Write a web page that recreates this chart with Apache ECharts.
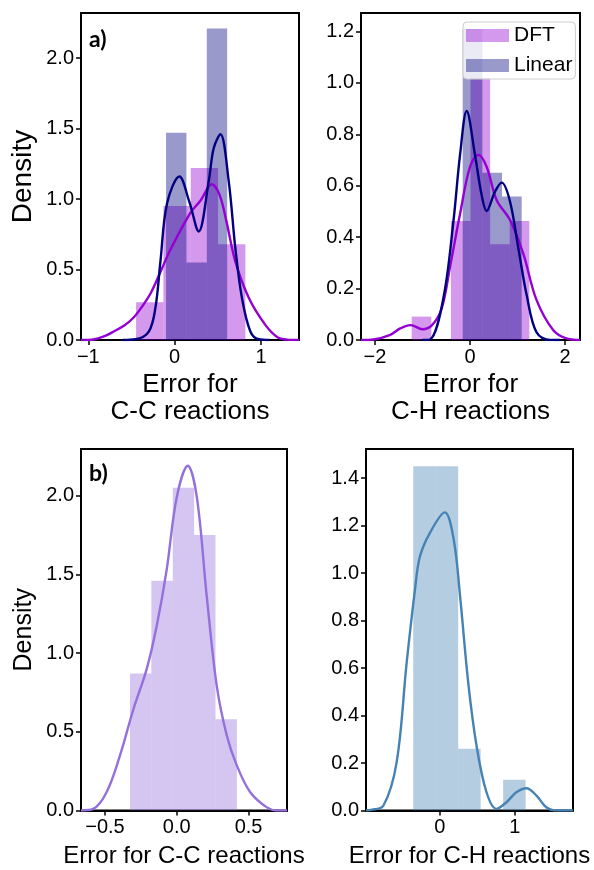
<!DOCTYPE html>
<html>
<head>
<meta charset="utf-8">
<script src="https://cdn.jsdelivr.net/npm/echarts@6/dist/echarts.min.js"></script>
<style>
html,body{margin:0;padding:0;background:#fff;}
#chart{width:594px;height:870px;}
</style>
</head>
<body>
<div id="chart"></div>
<script>
// ---------- data ----------
// Panel a) C-C reactions
const ccDftEdges = [-0.447, -0.1305, 0.186, 0.5025, 0.819];
const ccDftDensity = [0.268, 0.95, 1.22, 0.68];
const ccLinEdges = [-0.1, 0.136, 0.372, 0.608];
const ccLinDensity = [1.47, 0.55, 2.21];
const ccDftKde = [[-1.085,0],[-0.94,0.004],[-0.82,0.025],[-0.707,0.06],[-0.58,0.105],[-0.475,0.16],[-0.38,0.235],[-0.28,0.33],[-0.16,0.49],[-0.05,0.64],[0.18,0.9],[0.3,0.99],[0.43,1.105],[0.52,1.03],[0.6,0.84],[0.703,0.556],[0.858,0.30],[1.05,0.107],[1.19,0.02],[1.3,0.003],[1.44,0]];
const ccLinKde = [[-0.6,0],[-0.455,0.005],[-0.3,0.06],[-0.224,0.225],[-0.166,0.55],[-0.088,0.97],[0.055,1.16],[0.17,0.98],[0.278,0.77],[0.394,1.125],[0.452,1.36],[0.53,1.46],[0.626,1.125],[0.703,0.65],[0.78,0.296],[0.877,0.06],[0.973,0.005],[1.1,0]];

// Panel a) C-H reactions
const chDftEdges = [-1.227, -0.814, -0.402, 0.011, 0.424, 0.836, 1.249];
const chDftDensity = [0.091, 0, 0.463, 1.02, 0.372, 0.463];
const chLinEdges = [-0.154, 0.26, 0.674, 1.088];
const chLinDensity = [1.21, 0.651, 0.558];
const chDftKde = [[-2.295,0],[-2.03,0.002],[-1.68,0.02],[-1.47,0.045],[-1.25,0.058],[-1.0,0.042],[-0.8,0.058],[-0.6,0.12],[-0.42,0.285],[-0.21,0.49],[0,0.674],[0.175,0.72],[0.35,0.674],[0.56,0.545],[0.842,0.467],[1.12,0.337],[1.40,0.156],[1.75,0.039],[2.03,0.006],[2.316,0]];
const chLinKde = [[-1.0,0],[-0.842,0.002],[-0.561,0.162],[-0.35,0.46],[-0.21,0.72],[-0.07,0.891],[0.105,0.72],[0.245,0.564],[0.35,0.502],[0.526,0.577],[0.667,0.612],[0.842,0.539],[1.018,0.357],[1.193,0.175],[1.40,0.03],[1.684,0],[1.9,0]];

// Panel b) C-C reactions
const ccBEdges = [-0.326, -0.177, -0.028, 0.121, 0.270, 0.419];
const ccBDensity = [0.87, 1.46, 2.05, 1.75, 0.58];
const ccBKde = [[-0.667,0],[-0.582,0.01],[-0.489,0.116],[-0.396,0.348],[-0.303,0.64],[-0.209,0.9],[-0.14,1.17],[-0.07,1.53],[0,1.99],[0.077,2.19],[0.14,1.99],[0.209,1.36],[0.279,0.79],[0.349,0.475],[0.419,0.285],[0.512,0.116],[0.628,0.02],[0.7,0],[0.768,0]];

// Panel b) C-H reactions
const chBEdges = [-0.356, -0.056, 0.244, 0.544, 0.844, 1.144];
const chBDensity = [1.45, 1.45, 0.26, 0, 0.13];
const chBKde = [[-0.987,0],[-0.933,0.002],[-0.756,0.02],[-0.578,0.203],[-0.444,0.623],[-0.333,0.931],[-0.267,1.07],[-0.133,1.17],[0.065,1.256],[0.185,1.14],[0.27,0.90],[0.378,0.539],[0.489,0.273],[0.622,0.077],[0.756,0.007],[0.889,0.035],[1.02,0.077],[1.156,0.094],[1.289,0.063],[1.42,0.014],[1.56,0],[1.777,0]];

// tick labels
const xTicksA = [-1, 0, 1];
const yTicksA = [0, 0.5, 1.0, 1.5, 2.0];
const xTicksB = [-2, 0, 2];
const yTicksB = [0, 0.2, 0.4, 0.6, 0.8, 1.0, 1.2];
const xTicksC = [-0.5, 0, 0.5];
const yTicksC = [0, 0.5, 1.0, 1.5, 2.0];
const xTicksD = [0, 1];
const yTicksD = [0, 0.2, 0.4, 0.6, 0.8, 1.0, 1.2, 1.4];

// ---------- helpers ----------
const FONT = 'Liberation Sans, Arial, sans-serif';
function binsToData(edges, dens) {
  const out = [];
  for (let i = 0; i < dens.length; i++) {
    if (dens[i] > 0) out.push([edges[i], edges[i + 1], dens[i]]);
  }
  return out;
}
function histSeries(name, gi, edges, dens, color) {
  return {
    type: 'custom', name: name, xAxisIndex: gi, yAxisIndex: gi,
    itemStyle: { color: color },
    encode: { x: [0, 1], y: 2 },
    clip: true,
    data: binsToData(edges, dens),
    renderItem: function (params, api) {
      const p0 = api.coord([api.value(0), api.value(2)]);
      const p1 = api.coord([api.value(1), 0]);
      return {
        type: 'rect',
        shape: { x: p0[0], y: p0[1], width: p1[0] - p0[0], height: p1[1] - p0[1] },
        style: { fill: color }
      };
    }
  };
}
function kdeSeries(name, gi, data, color) {
  return {
    type: 'line', name: name, xAxisIndex: gi, yAxisIndex: gi,
    data: data, smooth: 0.35, showSymbol: false, symbol: 'none',
    lineStyle: { color: color, width: 2.4 }, itemStyle: { color: color },
    clip: true, silent: true
  };
}
const minus = s => s.replace('-', '\u2212');
function xAxis(gi, min, max, ticks, fmt, name, fs, gap, lfs) {
  return {
    type: 'value', gridIndex: gi, min: min, max: max,
    axisLine: { show: true, onZero: false, lineStyle: { color: '#000', width: 2 } },
    axisTick: { show: true, length: 5, customValues: ticks, lineStyle: { color: '#000', width: 1.5 } },
    axisLabel: { customValues: ticks, formatter: fmt, color: '#000', fontFamily: FONT, fontSize: lfs, margin: 7 },
    splitLine: { show: false },
    name: name, nameLocation: 'middle', nameGap: gap,
    nameTextStyle: { color: '#000', fontFamily: FONT, fontSize: fs, lineHeight: fs * 1.02 }
  };
}
function yAxis(gi, min, max, ticks, name, lfs, fs) {
  return {
    type: 'value', gridIndex: gi, min: min, max: max,
    axisLine: { show: true, onZero: false, lineStyle: { color: '#000', width: 2 } },
    axisTick: { show: true, length: 5, customValues: ticks, lineStyle: { color: '#000', width: 1.5 } },
    axisLabel: { customValues: ticks, formatter: v => v.toFixed(1), color: '#000', fontFamily: FONT, fontSize: lfs, margin: 7 },
    splitLine: { show: false },
    name: name, nameLocation: 'middle', nameGap: 44,
    nameTextStyle: { color: '#000', fontFamily: FONT, fontSize: fs }
  };
}

const DFT_BAR = 'rgba(148,0,211,0.4)';
const LIN_BAR = 'rgba(0,0,128,0.4)';
const DFT_LINE = '#9400D3';
const LIN_LINE = '#000080';

const gridStyle = { show: true, borderColor: '#000', borderWidth: 2, backgroundColor: 'transparent' };

const option = {
  animation: false,
  backgroundColor: '#fff',
  grid: [
    Object.assign({ left: 81, top: 13, width: 218, height: 327 }, gridStyle),
    Object.assign({ left: 361, top: 13, width: 219, height: 327 }, gridStyle),
    Object.assign({ left: 81, top: 449, width: 206, height: 363 }, gridStyle),
    Object.assign({ left: 366, top: 449, width: 207, height: 363 }, gridStyle)
  ],
  xAxis: [
    xAxis(0, -1.085, 1.44, xTicksA, v => minus(String(v)), 'Error for\nC-C reactions', 26, 32, 20),
    xAxis(1, -2.295, 2.316, xTicksB, v => minus(String(v)), 'Error for\nC-H reactions', 26, 32, 20),
    xAxis(2, -0.667, 0.768, xTicksC, v => minus(v.toFixed(1)), 'Error for C-C reactions', 24, 34, 20),
    xAxis(3, -0.987, 1.777, xTicksD, v => minus(String(v)), 'Error for C-H reactions', 24, 34, 20)
  ],
  yAxis: [
    yAxis(0, 0, 2.32, yTicksA, 'Density', 20, 28),
    yAxis(1, 0, 1.272, yTicksB, '', 20, 28),
    yAxis(2, 0, 2.296, yTicksC, 'Density', 20, 25),
    yAxis(3, 0, 1.523, yTicksD, '', 20, 25)
  ],
  legend: {
    left: 463, top: 22, orient: 'vertical',
    itemWidth: 43, itemHeight: 13, itemGap: 9,
    padding: [3, 3, 3, 3],
    backgroundColor: 'rgba(255,255,255,0.8)', borderColor: '#cccccc', borderWidth: 1, borderRadius: 4,
    textStyle: { color: '#000', fontFamily: FONT, fontSize: 21 },
    data: [
      { name: 'DFT', icon: 'rect', itemStyle: { color: DFT_BAR } },
      { name: 'Linear', icon: 'rect', itemStyle: { color: LIN_BAR } }
    ],
    selectedMode: false
  },
  graphic: [
    { type: 'text', left: 89, top: 28, style: { text: 'a)', fontFamily: 'Lato, sans-serif', fontWeight: 'bold', fontSize: 23, fill: '#000' } },
    { type: 'text', left: 89, top: 462, style: { text: 'b)', fontFamily: 'Lato, sans-serif', fontWeight: 'bold', fontSize: 23, fill: '#000' } }
  ],
  series: [
    histSeries('DFT', 0, ccDftEdges, ccDftDensity, DFT_BAR),
    kdeSeries('DFT kde', 0, ccDftKde, DFT_LINE),
    histSeries('Linear', 0, ccLinEdges, ccLinDensity, LIN_BAR),
    kdeSeries('Linear kde', 0, ccLinKde, LIN_LINE),
    histSeries('DFT', 1, chDftEdges, chDftDensity, DFT_BAR),
    kdeSeries('DFT kde', 1, chDftKde, DFT_LINE),
    histSeries('Linear', 1, chLinEdges, chLinDensity, LIN_BAR),
    kdeSeries('Linear kde', 1, chLinKde, LIN_LINE),
    histSeries('CC b', 2, ccBEdges, ccBDensity, 'rgba(147,112,219,0.4)'),
    kdeSeries('CC b kde', 2, ccBKde, '#9370DB'),
    histSeries('CH b', 3, chBEdges, chBDensity, 'rgba(70,130,180,0.4)'),
    kdeSeries('CH b kde', 3, chBKde, '#4682B4')
  ]
};

const chart = echarts.init(document.getElementById('chart'), null, { renderer: 'canvas' });
chart.setOption(option);
</script>
</body>
</html>
